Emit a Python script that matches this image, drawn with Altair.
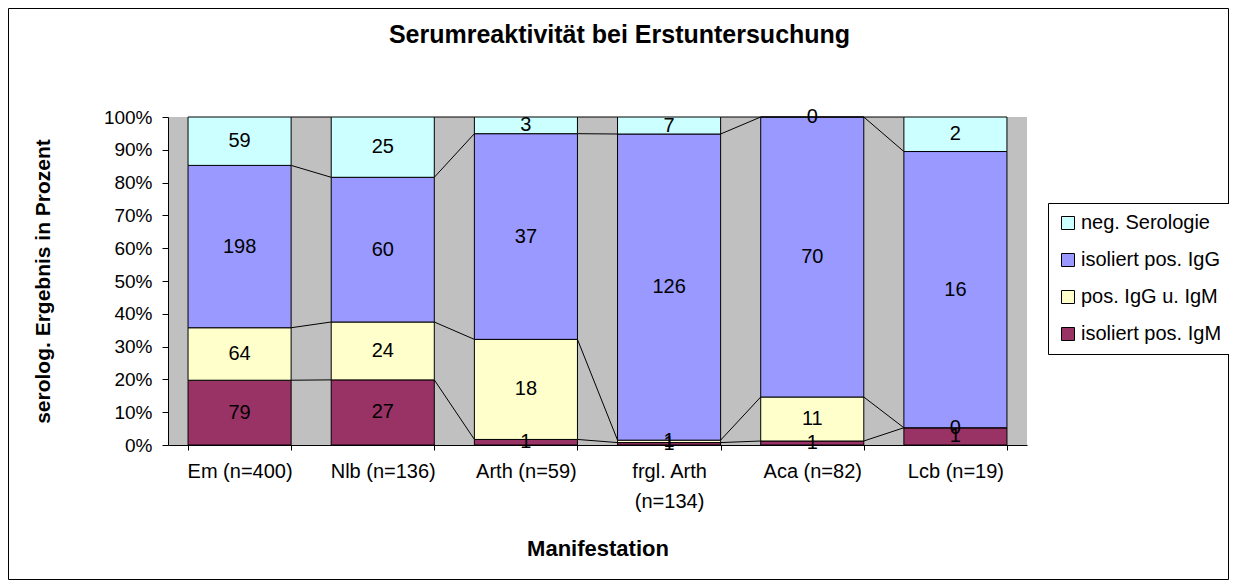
import altair as alt
import pandas as pd

categories = ["Em (n=400)", "Nlb (n=136)", "Arth (n=59)", "frgl. Arth (n=134)", "Aca (n=82)", "Lcb (n=19)"]
# series from bottom to top of each bar
series = ["isoliert pos. IgM", "pos. IgG u. IgM", "isoliert pos. IgG", "neg. Serologie"]
igm = [79, 27, 1, 1, 1, 1]
igg_igm = [64, 24, 18, 1, 11, 0]
igg = [198, 60, 37, 126, 70, 16]
neg = [59, 25, 3, 7, 0, 2]
series_colors = ["#993366", "#FFFFCC", "#9999FF", "#CCFFFF"]
legend_order = ["neg. Serologie", "isoliert pos. IgG", "pos. IgG u. IgM", "isoliert pos. IgM"]
y_tick_values = [0, 0.1, 0.2, 0.3, 0.4, 0.5, 0.6, 0.7, 0.8, 0.9, 1.0]

values_by_series = [igm, igg_igm, igg, neg]
rows = []
tops = {}
for ci, cat in enumerate(categories):
    total = sum(v[ci] for v in values_by_series)
    cum = 0
    for si, name in enumerate(series):
        v = values_by_series[si][ci]
        lo = cum / total
        hi = (cum + v) / total
        rows.append({"cat": cat, "series": name, "value": v, "lo": lo, "hi": hi,
                     "mid": (lo + hi) / 2, "ord": si})
        tops[(ci, si)] = hi
        cum += v
df = pd.DataFrame(rows)

line_rows = []
for si, name in enumerate(series):
    for ci in range(len(categories) - 1):
        line_rows.append({"cat": categories[ci], "cat_b": categories[ci + 1],
                          "ya": tops[(ci, si)], "yb": tops[(ci + 1, si)]})
lines_df = pd.DataFrame(line_rows)

FONT = "Liberation Sans"
W, H = 859, 328

x_scale = alt.Scale(domain=categories, paddingInner=0.28, paddingOuter=0.14)
y_scale = alt.Scale(domain=[0, 1], nice=False)

x_axis = alt.Axis(
    title="Manifestation", labelAngle=0, labelFontSize=20, labelFont=FONT, labelColor="black",
    labelPadding=11, tickSize=5, tickColor="black", domainColor="black", tickBand="extent",
    labelLineHeight=30,
    labelExpr="datum.value == 'frgl. Arth (n=134)' ? ['frgl. Arth', '(n=134)'] : datum.label",
    titleFontSize=22, titleFont=FONT, titleFontWeight="bold", titleColor="black",
    titleY=103, titleBaseline="middle", grid=False,
)
y_axis = alt.Axis(
    title="serolog. Ergebnis in Prozent", values=y_tick_values, format=".0%",
    labelFontSize=19, labelFont=FONT, labelColor="black", labelPadding=10,
    tickSize=6, tickColor="black", domainColor="black", grid=False,
    titleFontSize=21, titleFont=FONT, titleFontWeight="bold", titleColor="black",
    titleX=-125, titleY=H / 2, titleBaseline="middle", titleAlign="center", titleAngle=270,
)

bars = alt.Chart(df).mark_bar(stroke="black", strokeWidth=1).encode(
    x=alt.X("cat:N", scale=x_scale, axis=x_axis),
    y=alt.Y("lo:Q", scale=y_scale, axis=y_axis),
    y2="hi:Q",
    color=alt.Color(
        "series:N",
        scale=alt.Scale(domain=legend_order,
                        range=[series_colors[series.index(s)] for s in legend_order]),
        legend=alt.Legend(
            title=None, orient="none", legendX=880, legendY=86,
            strokeColor="black", fillColor="white", padding=10,
            symbolType="square", symbolSize=169, symbolStrokeColor="black",
            symbolStrokeWidth=1, symbolOpacity=1,
            labelFontSize=20, labelFont=FONT, labelColor="black",
            rowPadding=17, labelOffset=3,
        ),
    ),
)

connectors = alt.Chart(lines_df).mark_rule(color="black", strokeWidth=1).encode(
    x=alt.X("cat:N", scale=x_scale, axis=x_axis, bandPosition=1),
    x2=alt.X2("cat_b", bandPosition=0),
    y=alt.Y("ya:Q", scale=y_scale, axis=y_axis),
    y2="yb:Q",
)

labels = alt.Chart(df).mark_text(fontSize=20, font=FONT, color="black", baseline="middle").encode(
    x=alt.X("cat:N", scale=x_scale, axis=x_axis),
    y=alt.Y("mid:Q", scale=y_scale, axis=y_axis),
    text="value:Q",
)

frame = alt.Chart(pd.DataFrame({"a": [0]})).mark_rect(
    fillOpacity=0, stroke="black", strokeWidth=1
).encode(
    x=alt.value(-159.5), x2=alt.value(W + 201.5),
    y=alt.value(-108.5), y2=alt.value(H + 134.5),
)

chart = alt.layer(connectors, bars, labels, frame).properties(
    width=W, height=H,
    title=alt.TitleParams(
        "Serumreaktivität bei Erstuntersuchung", fontSize=25, font=FONT,
        fontWeight="bold", color="black", anchor="middle", dx=22, offset=-59.5,
        baseline="alphabetic",
    ),
    autosize=alt.AutoSizeParams(type="none"),
    padding={"left": 160, "top": 109, "right": 202, "bottom": 135},
    background="white",
).configure_view(fill="#C0C0C0", stroke=None)

chart.save("out.html", embed_options={"renderer": "svg", "actions": False})
